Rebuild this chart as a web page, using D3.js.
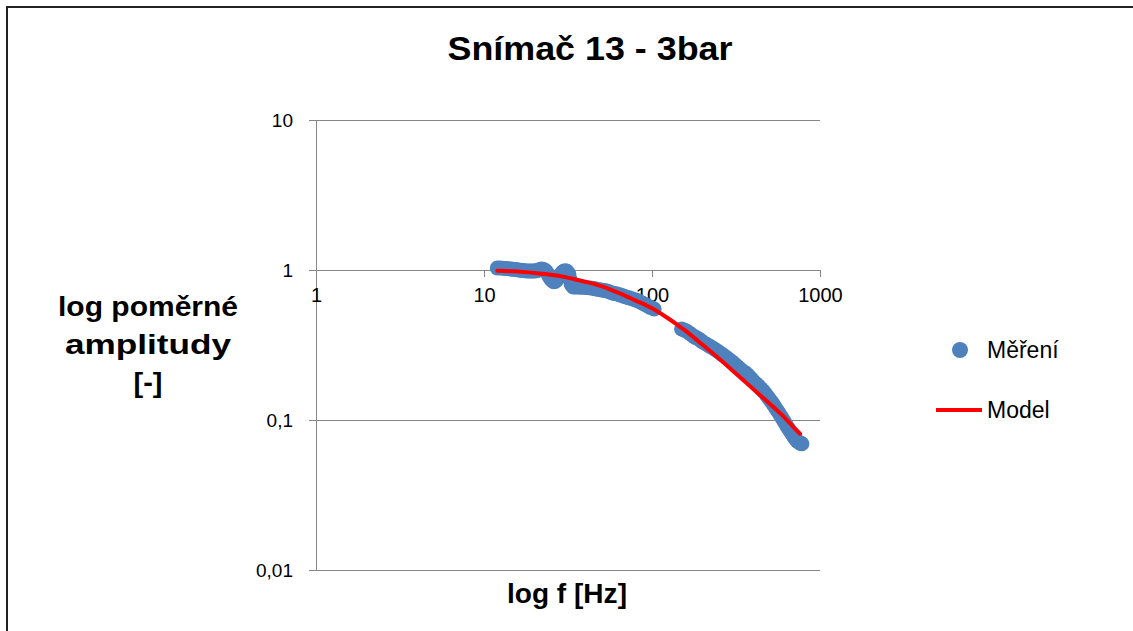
<!DOCTYPE html>
<html>
<head>
<meta charset="utf-8">
<script src="https://cdn.jsdelivr.net/npm/d3@7"></script>
<style>
  html, body { margin: 0; padding: 0; background: #fff; }
  svg { display: block; }
</style>
</head>
<body>
<svg id="chart" width="1133" height="631"></svg>
<script>
// ---- data ----
const title = "Snímač 13 - 3bar";
const yTitleLines = ["log poměrné", "amplitudy", "[-]"];
const xTitle = "log f [Hz]";
const seriesNames = ["Měření", "Model"];

const xTicks = [1, 10, 100, 1000];
const xTickLabels = ["1", "10", "100", "1000"];
const yTicks = [10, 1, 0.1, 0.01];
const yTickLabels = ["10", "1", "0,1", "0,01"];

// measured (Měření)
const measF = [12, 12.5, 13, 13.5, 14, 14.5, 15, 15.5, 16, 16.5, 17, 17.5, 18, 18.5, 19, 19.5, 20, 20.5, 21, 21.5, 22, 22.5, 23, 23.5, 24, 24.5, 25, 25.5, 26, 26.5, 27, 27.5, 28, 28.5, 29, 29.5, 30, 30.5, 31, 31.5, 32, 32.5, 33, 33.5, 34, 35, 36, 37, 38, 40, 42, 44, 46, 48, 50, 52, 54, 56, 58, 60, 62, 64, 66, 68, 70, 73, 76, 79, 82, 85, 88, 91, 94, 97, 100, 103,
  150, 155, 160, 165, 170, 175, 180, 185, 190, 195, 200, 210, 220, 230, 240, 250, 260, 270, 280, 290, 300, 310, 320, 330, 340, 350, 360, 370, 380, 390, 400, 415, 430, 445, 460, 475, 490, 505, 520, 535, 550, 565, 580, 595, 610, 625, 640, 655, 670, 685, 700, 715, 730, 745, 760, 770, 780];
const measV = [1.031, 1.031, 1.027, 1.023, 1.019, 1.015, 1.01, 1.006, 1.0, 0.996, 0.992, 0.989, 0.985, 0.985, 0.985, 0.985, 0.985, 0.99, 0.998, 1.006, 1.015, 1.008, 1.0, 0.975, 0.94, 0.9, 0.87, 0.85, 0.835, 0.84, 0.855, 0.878, 0.898, 0.925, 0.955, 0.972, 0.985, 0.985, 0.985, 0.965, 0.94, 0.87, 0.807, 0.785, 0.77, 0.77, 0.77, 0.77, 0.768, 0.765, 0.761, 0.757, 0.749, 0.742, 0.736, 0.73, 0.724, 0.713, 0.703, 0.698, 0.692, 0.684, 0.676, 0.668, 0.661, 0.652, 0.643, 0.634, 0.625, 0.612, 0.6, 0.589, 0.578, 0.566, 0.558, 0.55,
  0.404, 0.398, 0.392, 0.383, 0.374, 0.365, 0.357, 0.352, 0.347, 0.339, 0.331, 0.321, 0.311, 0.302, 0.293, 0.284, 0.275, 0.267, 0.259, 0.251, 0.244, 0.236, 0.229, 0.222, 0.215, 0.21, 0.206, 0.2, 0.194, 0.188, 0.182, 0.175, 0.169, 0.162, 0.156, 0.149, 0.142, 0.136, 0.130, 0.124, 0.118, 0.113, 0.108, 0.103, 0.0985, 0.094, 0.0898, 0.0865, 0.0832, 0.08, 0.077, 0.0747, 0.0724, 0.0713, 0.0703, 0.0699, 0.0695];

// model
const modelF = [12, 15, 20, 25, 30, 35, 40, 50, 60, 70, 80, 90, 100, 120, 140, 160, 180, 200, 250, 300, 350, 400, 450, 500, 550, 600, 650, 700, 760];
const modelV = [0.99, 0.98, 0.955, 0.93, 0.90, 0.865, 0.835, 0.78, 0.72, 0.67, 0.625, 0.59, 0.555, 0.49, 0.435, 0.39, 0.35, 0.317, 0.257, 0.215, 0.184, 0.161, 0.143, 0.129, 0.117, 0.107, 0.097, 0.089, 0.081];

// ---- drawing ----
const svg = d3.select("#chart");
const W = 1133, H = 631;
const font = "'Liberation Sans', Arial, sans-serif";
const blue = "#4F81BD", red = "#FF0000", axisCol = "#868686";

svg.append("rect").attr("width", W).attr("height", H).attr("fill", "#fff");
// outer frame (top & left visible)
svg.append("path").attr("d", "M7,640 L7,7 L1140,7")
  .attr("fill", "none").attr("stroke", "#222").attr("stroke-width", 2);

const x = d3.scaleLog().domain([1, 1000]).range([316, 820]);
const y = d3.scaleLog().domain([0.01, 10]).range([570, 120]);

// horizontal gridlines
svg.append("g").selectAll("line").data(yTicks).join("line")
  .attr("x1", 309).attr("x2", 820)
  .attr("y1", d => y(d)).attr("y2", d => y(d))
  .attr("stroke", axisCol).attr("stroke-width", 1)
  .attr("shape-rendering", "crispEdges");

// y axis
const yAxis = d3.axisLeft(y).tickValues(yTicks)
  .tickFormat((d, i) => yTickLabels[i]).tickSize(7).tickPadding(16);
const gy = svg.append("g").attr("transform", "translate(316,0)").call(yAxis);
gy.attr("font-size", 19).attr("font-family", font);
gy.select(".domain").attr("stroke", axisCol).attr("shape-rendering", "crispEdges");
gy.selectAll(".tick line").attr("stroke", axisCol).attr("shape-rendering", "crispEdges");
gy.selectAll(".tick text").attr("fill", "#000");

// x axis crossing at y = 1
const xAxis = d3.axisBottom(x).tickValues(xTicks)
  .tickFormat((d, i) => xTickLabels[i]).tickSize(7).tickPadding(11).tickSizeOuter(0);
const gx = svg.append("g").attr("transform", `translate(0,${y(1)})`).call(xAxis);
gx.attr("font-size", 20).attr("font-family", font);
gx.select(".domain").attr("stroke", axisCol).attr("shape-rendering", "crispEdges");
gx.selectAll(".tick line").attr("stroke", axisCol).attr("shape-rendering", "crispEdges");
gx.selectAll(".tick text").attr("fill", "#000");

// measured points
const meas = measF.map((f, i) => ({ f, v: measV[i] }));
svg.append("g").selectAll("circle").data(meas).join("circle")
  .attr("cx", d => x(d.f)).attr("cy", d => y(d.v)).attr("r", 7.5)
  .attr("fill", blue);

// model line
const model = modelF.map((f, i) => ({ f, v: modelV[i] }));
svg.append("path").datum(model)
  .attr("d", d3.line().x(d => x(d.f)).y(d => y(d.v)).curve(d3.curveMonotoneX))
  .attr("fill", "none").attr("stroke", red).attr("stroke-width", 4)
  .attr("stroke-linecap", "round");

// title
svg.append("text").attr("x", 590).attr("y", 60).attr("text-anchor", "middle")
  .attr("font-family", font).attr("font-weight", "bold").attr("font-size", 34)
  .attr("textLength", 285).attr("lengthAdjust", "spacingAndGlyphs")
  .text(title);

// y title
const yWidths = [180, 166, 29];
yTitleLines.forEach((t, i) => {
  svg.append("text").attr("text-anchor", "middle")
    .attr("font-family", font).attr("font-weight", "bold").attr("font-size", 27)
    .attr("x", 148).attr("y", 316 + i * 38)
    .attr("textLength", yWidths[i]).attr("lengthAdjust", "spacingAndGlyphs")
    .text(t);
});

// x title
svg.append("text").attr("x", 567).attr("y", 603).attr("text-anchor", "middle")
  .attr("font-family", font).attr("font-weight", "bold").attr("font-size", 27)
  .attr("textLength", 120).attr("lengthAdjust", "spacingAndGlyphs")
  .text(xTitle);

// legend
const lg = svg.append("g");
lg.append("circle").attr("cx", 960).attr("cy", 350).attr("r", 8).attr("fill", blue);
lg.append("text").attr("x", 987).attr("y", 358).attr("font-family", font)
  .attr("font-size", 23).text(seriesNames[0]);
lg.append("line").attr("x1", 936).attr("x2", 982).attr("y1", 410).attr("y2", 410)
  .attr("stroke", red).attr("stroke-width", 4);
lg.append("text").attr("x", 987).attr("y", 418).attr("font-family", font)
  .attr("font-size", 23).text(seriesNames[1]);
</script>
</body>
</html>
